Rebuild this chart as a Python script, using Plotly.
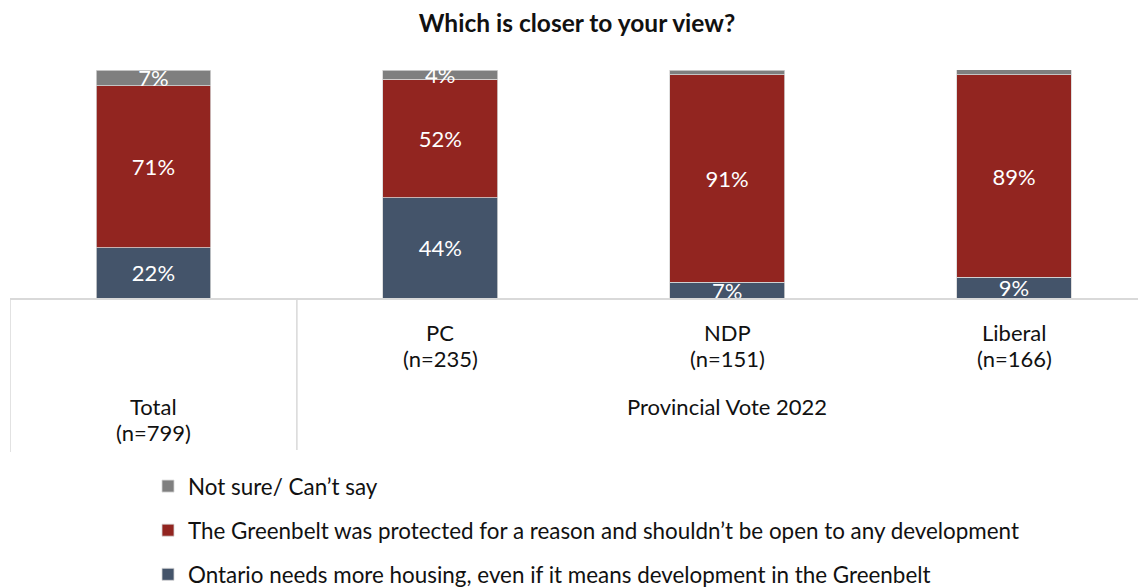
import plotly.graph_objects as go

categories = ["Total", "PC", "NDP", "Liberal"]
cat_sizes = ["(n=799)", "(n=235)", "(n=151)", "(n=166)"]
group_label = "Provincial Vote 2022"

housing = [22, 44, 7, 9]
protected = [71, 52, 91, 89]
not_sure = [7, 4, 2, 3]

series = [
    ("Ontario needs more housing, even if it means development in the Greenbelt", housing, "#44546A", 3),
    ("The Greenbelt was protected for a reason and shouldn’t be open to any development", protected, "#922520", 2),
    ("Not sure/ Can’t say", not_sure, "#7F7F7F", 1),
]

FONT = "Lato"
W, H = 1138, 580          # page body has an 8px margin
L, T, PB = 2, 62, 290     # plot left, top, bottom (figure px)
PH = PB - T

def py(yfig):
    return (PB - yfig) / PH

fig = go.Figure()
for i, (name, vals, color, rank) in enumerate(series):
    fig.add_trace(go.Bar(
        x=categories, y=vals, name=name,
        marker=dict(color=color, line=dict(color="#d6d6d6", width=0.8)),
        text=[f"{v}%" if v >= 4 else "" for v in vals],
        textposition="inside", insidetextanchor="middle",
        textfont=dict(color="white", size=22, family=FONT),
        width=0.4, legendgroup=f"g{i}", legendrank=rank,
    ))

fig.update_layout(
    barmode="stack",
    width=W, height=H,
    margin=dict(l=L, r=0, t=T, b=H - PB, autoexpand=False),
    paper_bgcolor="white", plot_bgcolor="white",
    title=dict(text="<b>Which is closer to your view?</b>", x=0.5, xanchor="center",
               y=1 - 15 / H, yanchor="middle", font=dict(size=24.5, family=FONT, color="#111")),
    uniformtext=dict(minsize=22, mode="show"),
    xaxis=dict(range=[-0.5, 3.46], showticklabels=False, showgrid=False, ticks="",
               showline=True, linecolor="#d9d9d9", linewidth=1.5, zeroline=False),
    yaxis=dict(range=[0, 100], visible=False),
    showlegend=True,
    legend=dict(x=(140 - L) / (W - L), xanchor="left", y=py(457), yanchor="top",
                tracegroupgap=12,
                font=dict(size=22.4, family=FONT, color="#111"), itemclick=False),
    font=dict(family=FONT, color="#111"),
)

# Table-like axis divider lines
for xv, yb in [(-0.5, 444), (0.5, 442)]:
    fig.add_shape(type="line", xref="x", yref="paper", x0=xv, x1=xv, y0=0, y1=py(yb),
                  line=dict(color="#d9d9d9", width=1.5))

# Category labels
lab_font = dict(size=22, family=FONT, color="#111")
for i, (c, n) in enumerate(zip(categories, cat_sizes)):
    y1, y2 = (398, 424) if i == 0 else (324, 350)
    fig.add_annotation(x=c, xref="x", yref="paper", y=py(y1), yanchor="middle",
                       text=c, showarrow=False, font=lab_font)
    fig.add_annotation(x=c, xref="x", yref="paper", y=py(y2), yanchor="middle",
                       text=n, showarrow=False, font=lab_font)
fig.add_annotation(x="NDP", xref="x", yref="paper", y=py(398), yanchor="middle",
                   text=group_label, showarrow=False, font=lab_font)

fig.write_html("out.html")
